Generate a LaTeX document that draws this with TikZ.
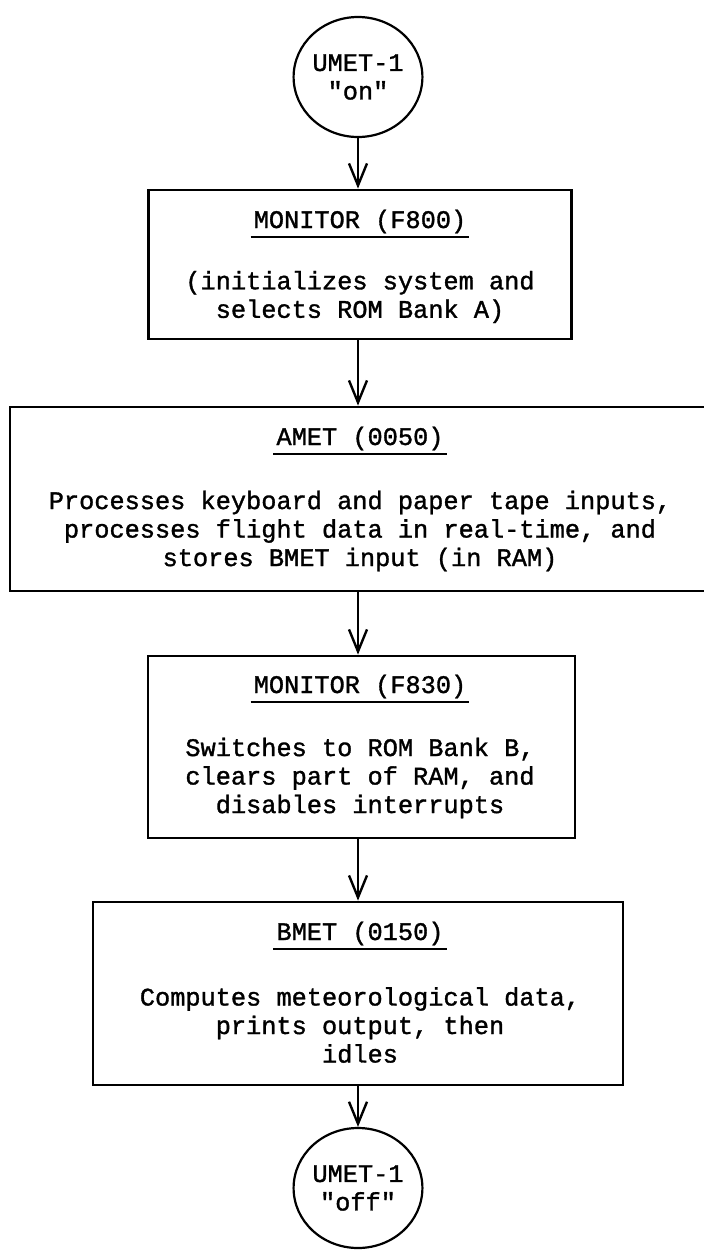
\documentclass[tikz,border=0pt]{standalone}
\usepackage{fontspec}
\newfontfamily\typew[FakeBold=1.3]{Liberation Mono}
\usetikzlibrary{arrows.meta,shapes.geometric,calc}
\begin{document}
\begin{tikzpicture}[x=1pt,y=-1pt,
  txt/.style={font=\typew\fontsize{25.3}{28.5}\selectfont,inner sep=0pt,align=center},
  term/.style={txt,draw,ellipse,line width=2.2pt,minimum width=128pt,minimum height=120pt},
  box/.style={draw,line width=2.8pt,inner sep=0pt},
  ul/.style={line width=2.6pt},
  arr/.style={line width=2.4pt,-{Straight Barb[length=22pt,width=18pt,line width=2.4pt]}}]
\useasboundingbox (0,0) rectangle (704,1254);

\node[term] (on) at (358,77) {UMET-1\\"on"};

\node[box,minimum width=423pt,minimum height=149pt] (b1) at (360,264.5) {};
\node[txt,anchor=base] (h1) at (360,228) {MONITOR (F800)};
\node[txt] (t1) at (360,297) {(initializes system and\\selects ROM Bank A)};

\node[box,minimum width=696pt,minimum height=184pt] (b2) at (358,499) {};
\node[txt,anchor=base] (h2) at (360,445) {AMET (0050)};
\node[txt] (t2) at (360,531) {Processes keyboard and paper tape inputs,\\processes flight data in real-time, and\\stores BMET input (in RAM)};

\node[box,minimum width=427pt,minimum height=182pt] (b3) at (361.5,747) {};
\node[txt,anchor=base] (h3) at (360,693) {MONITOR (F830)};
\node[txt] (t3) at (360,778) {Switches to ROM Bank B,\\clears part of RAM, and\\disables interrupts};

\node[box,minimum width=530pt,minimum height=183pt] (b4) at (358,993.5) {};
\node[txt,anchor=base] (h4) at (360,940) {BMET (0150)};
\node[txt] (t4) at (360,1025) {Computes meteorological data,\\prints output, then\\idles};

\node[term] (off) at (358,1188) {UMET-1\\"off"};

\foreach \h in {h1,h2,h3,h4}
  \draw[ul] ($(\h.base west)+(-3,9)$) -- ($(\h.base east)+(3,9)$);

\draw[arr] (on.south) -- (on.south |- b1.north);
\draw[arr] (on.south |- b1.south) -- (on.south |- b2.north);
\draw[arr] (on.south |- b2.south) -- (on.south |- b3.north);
\draw[arr] (on.south |- b3.south) -- (on.south |- b4.north);
\draw[arr] (on.south |- b4.south) -- (off.north);
\end{tikzpicture}
\end{document}
